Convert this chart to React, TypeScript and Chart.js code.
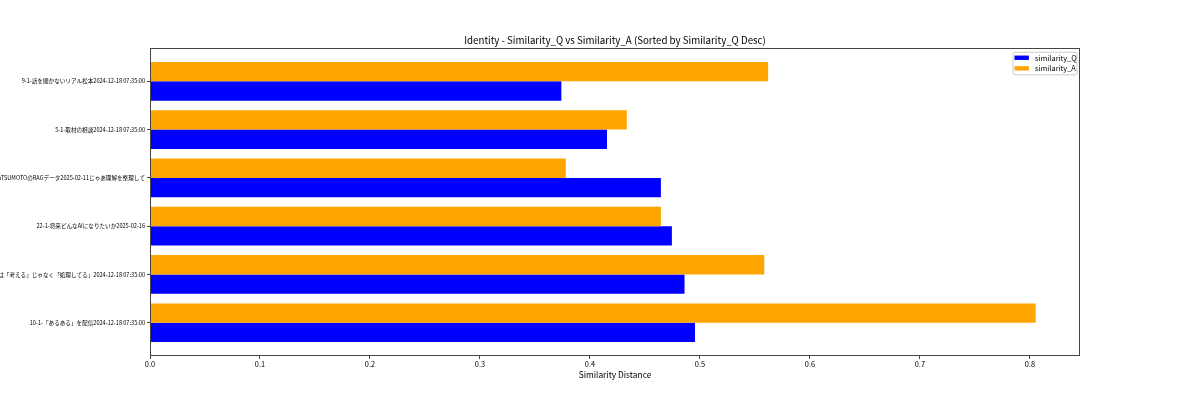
import React, { useEffect, useRef } from "react";
import Chart from "chart.js/auto";

// rows listed top to bottom, as they appear in the picture
const categories = [
  "9-1-話を聞かないリアル松本2024-12-18 07:35:00",
  "5-1-取材の相談2024-12-18 07:35:00",
  "1-1-MATSUMOTOのRAGデータ2025-02-11じゃあ理解を整理して",
  "22-1-将来どんなAIになりたいか2025-02-16",
  "8-1-AIは「考える」じゃなく「処理してる」2024-12-18 07:35:00",
  "10-1-「あるある」を配信2024-12-18 07:35:00",
];
const similarityQ = [0.374, 0.4155, 0.4645, 0.4745, 0.486, 0.4955];
const similarityA = [0.562, 0.4335, 0.378, 0.4645, 0.5585, 0.8053];

const xTicks = [0, 0.1, 0.2, 0.3, 0.4, 0.5, 0.6, 0.7, 0.8];
const xTickLabels = ["0.0", "0.1", "0.2", "0.3", "0.4", "0.5", "0.6", "0.7", "0.8"];

const FONT = "'Noto Sans CJK JP', 'Noto Sans', sans-serif";
const AXIS_COLOR = "#444";

// axes frame on all four sides, drawn over the bars like matplotlib spines
const frame = {
  id: "frame",
  afterDatasetsDraw(chart: any) {
    const { ctx, chartArea } = chart;
    ctx.save();
    ctx.strokeStyle = AXIS_COLOR;
    ctx.lineWidth = 1;
    ctx.strokeRect(
      Math.round(chartArea.left) + 0.5,
      Math.round(chartArea.top) + 0.5,
      Math.round(chartArea.right - chartArea.left) - 1,
      Math.round(chartArea.bottom - chartArea.top) - 1
    );
    ctx.restore();
  },
};

// legend box inside the upper right corner of the plot
const legendBox = {
  id: "legendBox",
  afterDraw(chart: any) {
    const { ctx, chartArea } = chart;
    const items = [chart.data.datasets[1], chart.data.datasets[0]];
    const w = 64;
    const h = 22.6;
    const left = chartArea.right - 3.5 - w;
    const top = chartArea.top + 3.7;
    ctx.save();
    ctx.beginPath();
    ctx.roundRect(left + 0.5, top + 0.5, w, h, 2);
    ctx.fillStyle = "rgba(255,255,255,0.8)";
    ctx.fill();
    ctx.strokeStyle = "#cccccc";
    ctx.lineWidth = 1;
    ctx.stroke();
    ctx.font = `7.4px ${FONT}`;
    ctx.textBaseline = "middle";
    ctx.textAlign = "left";
    items.forEach((ds: any, i: number) => {
      const cy = top + 6 + i * 10.6;
      ctx.fillStyle = ds.backgroundColor;
      ctx.fillRect(left + 2, cy - 2.2, 14.4, 4.4);
      ctx.fillStyle = "#000";
      ctx.fillText(ds.label, left + 22.5, cy);
    });
    ctx.restore();
  },
};

export default function App() {
  const canvasRef = useRef<HTMLCanvasElement | null>(null);

  useEffect(() => {
    const ctx = canvasRef.current?.getContext("2d");
    if (!ctx) return;

    const xMax = Math.max(...similarityQ, ...similarityA) * 1.05;

    const chart = new Chart(ctx, {
      type: "bar",
      data: {
        datasets: [
          {
            label: "similarity_A",
            data: similarityA.map((v, i) => ({ x: v, y: i })),
            backgroundColor: "#ffa500",
          },
          {
            label: "similarity_Q",
            data: similarityQ.map((v, i) => ({ x: v, y: i })),
            backgroundColor: "#0000ff",
          },
        ],
      },
      options: {
        indexAxis: "y",
        animation: false,
        responsive: true,
        maintainAspectRatio: false,
        datasets: {
          bar: {
            barPercentage: 1,
            categoryPercentage: 0.8,
            borderWidth: 0,
          },
        },
        layout: { padding: { left: 0, right: 120, top: 0, bottom: 0 } },
        plugins: {
          legend: { display: false },
          tooltip: { enabled: false },
          title: {
            display: true,
            fullSize: false,
            text: "Identity - Similarity_Q vs Similarity_A (Sorted by Similarity_Q Desc)",
            color: "#000",
            font: { family: FONT, size: 9.7, weight: "normal", lineHeight: 1.2 },
            padding: { top: 34.2, bottom: 2.2 },
          },
        },
        scales: {
          x: {
            type: "linear",
            min: 0,
            max: xMax,
            afterBuildTicks: (scale: any) => {
              scale.ticks = xTicks.map((v) => ({ value: v }));
            },
            afterFit: (scale: any) => {
              scale.height = 44;
            },
            ticks: {
              color: "#000",
              font: { family: FONT, size: 7.4 },
              padding: 1,
              maxRotation: 0,
              autoSkip: false,
              callback: (_v: any, i: number) => xTickLabels[i],
            },
            grid: {
              display: true,
              drawOnChartArea: false,
              drawTicks: true,
              tickLength: 3,
              tickColor: AXIS_COLOR,
            },
            border: { display: false },
            title: {
              display: true,
              text: "Similarity Distance",
              color: "#000",
              font: { family: FONT, size: 8.4, lineHeight: 1.2 },
              padding: { top: 0, bottom: 20.6 },
            },
          },
          y: {
            type: "linear",
            offset: false,
            min: -0.69,
            max: categories.length - 1 + 0.69,
            reverse: true,
            afterBuildTicks: (scale: any) => {
              scale.ticks = categories.map((_, i) => ({ value: i }));
            },
            afterFit: (scale: any) => {
              scale.width = 150;
            },
            ticks: {
              color: "#000",
              font: { family: FONT, size: 5.6 },
              padding: 2,
              autoSkip: false,
              callback: (v: any) => categories[v as number],
            },
            grid: {
              display: true,
              offset: false,
              drawOnChartArea: false,
              drawTicks: true,
              tickLength: 3,
              tickColor: AXIS_COLOR,
            },
            border: { display: false },
          },
        },
      },
      plugins: [frame, legendBox],
    });

    return () => chart.destroy();
  }, []);

  return (
    <div style={{ position: "absolute", left: 0, top: 0, width: 1200, height: 400, background: "#fff" }}>
      <canvas ref={canvasRef} />
    </div>
  );
}
